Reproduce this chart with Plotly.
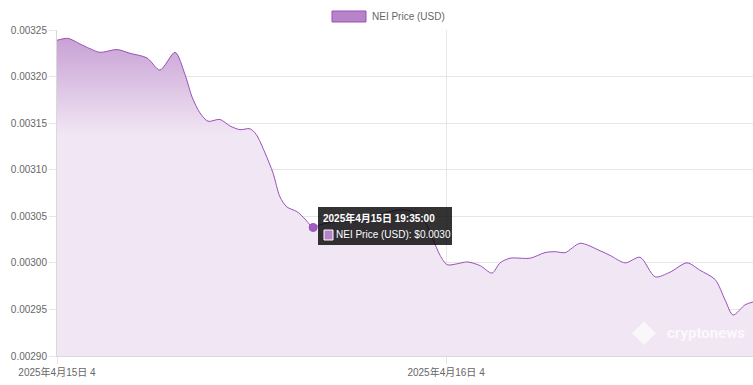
import plotly.graph_objects as go

# ---- data ----
times = [
    "2025-04-15 04:00", "2025-04-15 04:41", "2025-04-15 05:25", "2025-04-15 06:02",
    "2025-04-15 06:39", "2025-04-15 07:42", "2025-04-15 08:30", "2025-04-15 09:33",
    "2025-04-15 10:21", "2025-04-15 11:17", "2025-04-15 11:54", "2025-04-15 12:20",
    "2025-04-15 12:49", "2025-04-15 13:19", "2025-04-15 14:03", "2025-04-15 14:40",
    "2025-04-15 15:17", "2025-04-15 15:54", "2025-04-15 16:17", "2025-04-15 16:50",
    "2025-04-15 17:20", "2025-04-15 17:45", "2025-04-15 18:11", "2025-04-15 18:48",
    "2025-04-15 19:18", "2025-04-15 19:48", "2025-04-15 20:14", "2025-04-15 21:09",
    "2025-04-15 22:05", "2025-04-15 23:00", "2025-04-15 23:56", "2025-04-16 01:10",
    "2025-04-16 01:58", "2025-04-16 02:42", "2025-04-16 03:12", "2025-04-16 03:38",
    "2025-04-16 04:04", "2025-04-16 04:41", "2025-04-16 05:18", "2025-04-16 06:06",
    "2025-04-16 06:50", "2025-04-16 07:20", "2025-04-16 07:57", "2025-04-16 09:11",
    "2025-04-16 10:06", "2025-04-16 10:44", "2025-04-16 11:21", "2025-04-16 12:16",
    "2025-04-16 13:30", "2025-04-16 14:07", "2025-04-16 15:03", "2025-04-16 15:58",
    "2025-04-16 16:54", "2025-04-16 17:49", "2025-04-16 18:52", "2025-04-16 19:40",
    "2025-04-16 20:36", "2025-04-16 21:13", "2025-04-16 21:42", "2025-04-16 22:27",
    "2025-04-16 22:56",
]
prices = [
    0.003239, 0.003241, 0.003235, 0.003230,
    0.003226, 0.003229, 0.003225, 0.003220,
    0.003207, 0.003226, 0.003202, 0.003178,
    0.003161, 0.003152, 0.003154, 0.003147,
    0.003143, 0.003144, 0.003138, 0.003118,
    0.003096, 0.003071, 0.003060, 0.003055,
    0.003047, 0.003038, 0.003041, 0.003044,
    0.003045, 0.003045, 0.003052, 0.003057,
    0.003055, 0.003044, 0.003025, 0.003008,
    0.002998, 0.002999, 0.003001, 0.002997,
    0.002989, 0.003000, 0.003005, 0.003005,
    0.003011, 0.003012, 0.003011, 0.003021,
    0.003013, 0.003008, 0.003000, 0.003006,
    0.002985, 0.002990, 0.003000, 0.002992,
    0.002982, 0.002960, 0.002944, 0.002955,
    0.002958,
]
series_name = "NEI Price (USD)"
tick_vals = ["2025-04-15 04:00", "2025-04-16 04:00"]
tick_text = ["2025年4月15日 4", "2025年4月16日 4"]
y_ticks = [0.00290, 0.00295, 0.00300, 0.00305, 0.00310, 0.00315, 0.00320, 0.00325]
y_tick_text = ["0.00290", "0.00295", "0.00300", "0.00305", "0.00310", "0.00315", "0.00320", "0.00325"]
hover_index = 25
hover_title = "2025年4月15日 19:35:00"
hover_body = "NEI Price (USD): $0.0030"

LINE = "#9b4fb8"
SWATCH = "#b784c8"
FONT = "Liberation Sans, Arial, Noto Sans CJK JP, sans-serif"

# pixel -> paper helpers for overlay placement (plot area 57..753 x 30..356)
def px(x):
    return (x - 57) / 696

def py(y):
    return (356 - y) / 326

fig = go.Figure()
fig.add_trace(go.Scatter(
    x=times, y=prices, mode="lines", name=series_name,
    line=dict(color=LINE, width=1, shape="spline", smoothing=0.8),
    fill="tozeroy",
    fillgradient=dict(
        type="vertical",
        colorscale=[[0, "#f1e6f4"], [0.68, "#f1e6f4"], [1, "#c59bd2"]],
        start=0.00290, stop=0.00325,
    ),
    showlegend=False, hoverinfo="skip",
))
# hovered point marker
fig.add_trace(go.Scatter(
    x=[times[hover_index]], y=[prices[hover_index]], mode="markers",
    marker=dict(color="#a35cc0", size=8, line=dict(color=LINE, width=1)),
    showlegend=False, hoverinfo="skip",
))

fig.update_layout(
    width=753, height=385,
    margin=dict(l=57, r=0, t=30, b=29),
    paper_bgcolor="white", plot_bgcolor="white",
    font=dict(family=FONT, size=10, color="#666666"),
    xaxis=dict(
        range=[times[0], times[-1]],
        tickvals=tick_vals, ticktext=tick_text,
        showgrid=True, gridcolor="#e6e6e6", gridwidth=1,
        showline=True, linecolor="#d9d9d9", linewidth=1,
        ticks="outside", ticklen=7, tickcolor="#e6e6e6",
        zeroline=False, tickfont=dict(size=10, color="#666666"),
    ),
    yaxis=dict(
        range=[0.00290, 0.00325],
        tickvals=y_ticks, ticktext=y_tick_text,
        showgrid=True, gridcolor="#e6e6e6", gridwidth=1,
        showline=True, linecolor="#d9d9d9", linewidth=1,
        ticks="outside", ticklen=7, tickcolor="#e6e6e6",
        zeroline=False, tickfont=dict(size=10, color="#666666"),
    ),
    shapes=[
        # legend swatch
        dict(type="rect", xref="paper", yref="paper",
             x0=px(332), x1=px(366), y0=py(22), y1=py(11),
             fillcolor=SWATCH, line=dict(color=LINE, width=1)),
        # tooltip box
        dict(type="rect", xref="paper", yref="paper",
             x0=px(318), x1=px(452), y0=py(245), y1=py(207),
             fillcolor="rgba(0,0,0,0.8)", line=dict(width=0)),
        # tooltip colour square
        dict(type="rect", xref="paper", yref="paper",
             x0=px(324), x1=px(333), y0=py(240), y1=py(230),
             fillcolor=SWATCH, line=dict(color="white", width=1)),
    ],
    annotations=[
        dict(text=series_name, xref="paper", yref="paper",
             x=px(370), y=py(16.5), xanchor="left", yanchor="middle",
             showarrow=False, font=dict(size=10, color="#666666", family=FONT)),
        # watermark
        dict(text="<b>cryptonews</b>", xref="paper", yref="paper",
             x=px(706), y=py(333), xanchor="center", yanchor="middle",
             showarrow=False, font=dict(size=15, color="rgba(255,255,255,0.75)", family="Roboto, sans-serif")),
        dict(text="◆", xref="paper", yref="paper",
             x=px(644), y=py(333), xanchor="center", yanchor="middle",
             showarrow=False, font=dict(size=24, color="rgba(255,255,255,0.7)")),
        # tooltip texts
        dict(text="<b>" + hover_title + "</b>", xref="paper", yref="paper",
             x=px(321), y=py(217.5), xanchor="left", yanchor="middle",
             showarrow=False, font=dict(size=10, color="white", family=FONT)),
        dict(text=hover_body, xref="paper", yref="paper",
             x=px(333.5), y=py(235), xanchor="left", yanchor="middle",
             showarrow=False, font=dict(size=10, color="white", family=FONT)),
    ],
)

fig.write_html("out.html")
